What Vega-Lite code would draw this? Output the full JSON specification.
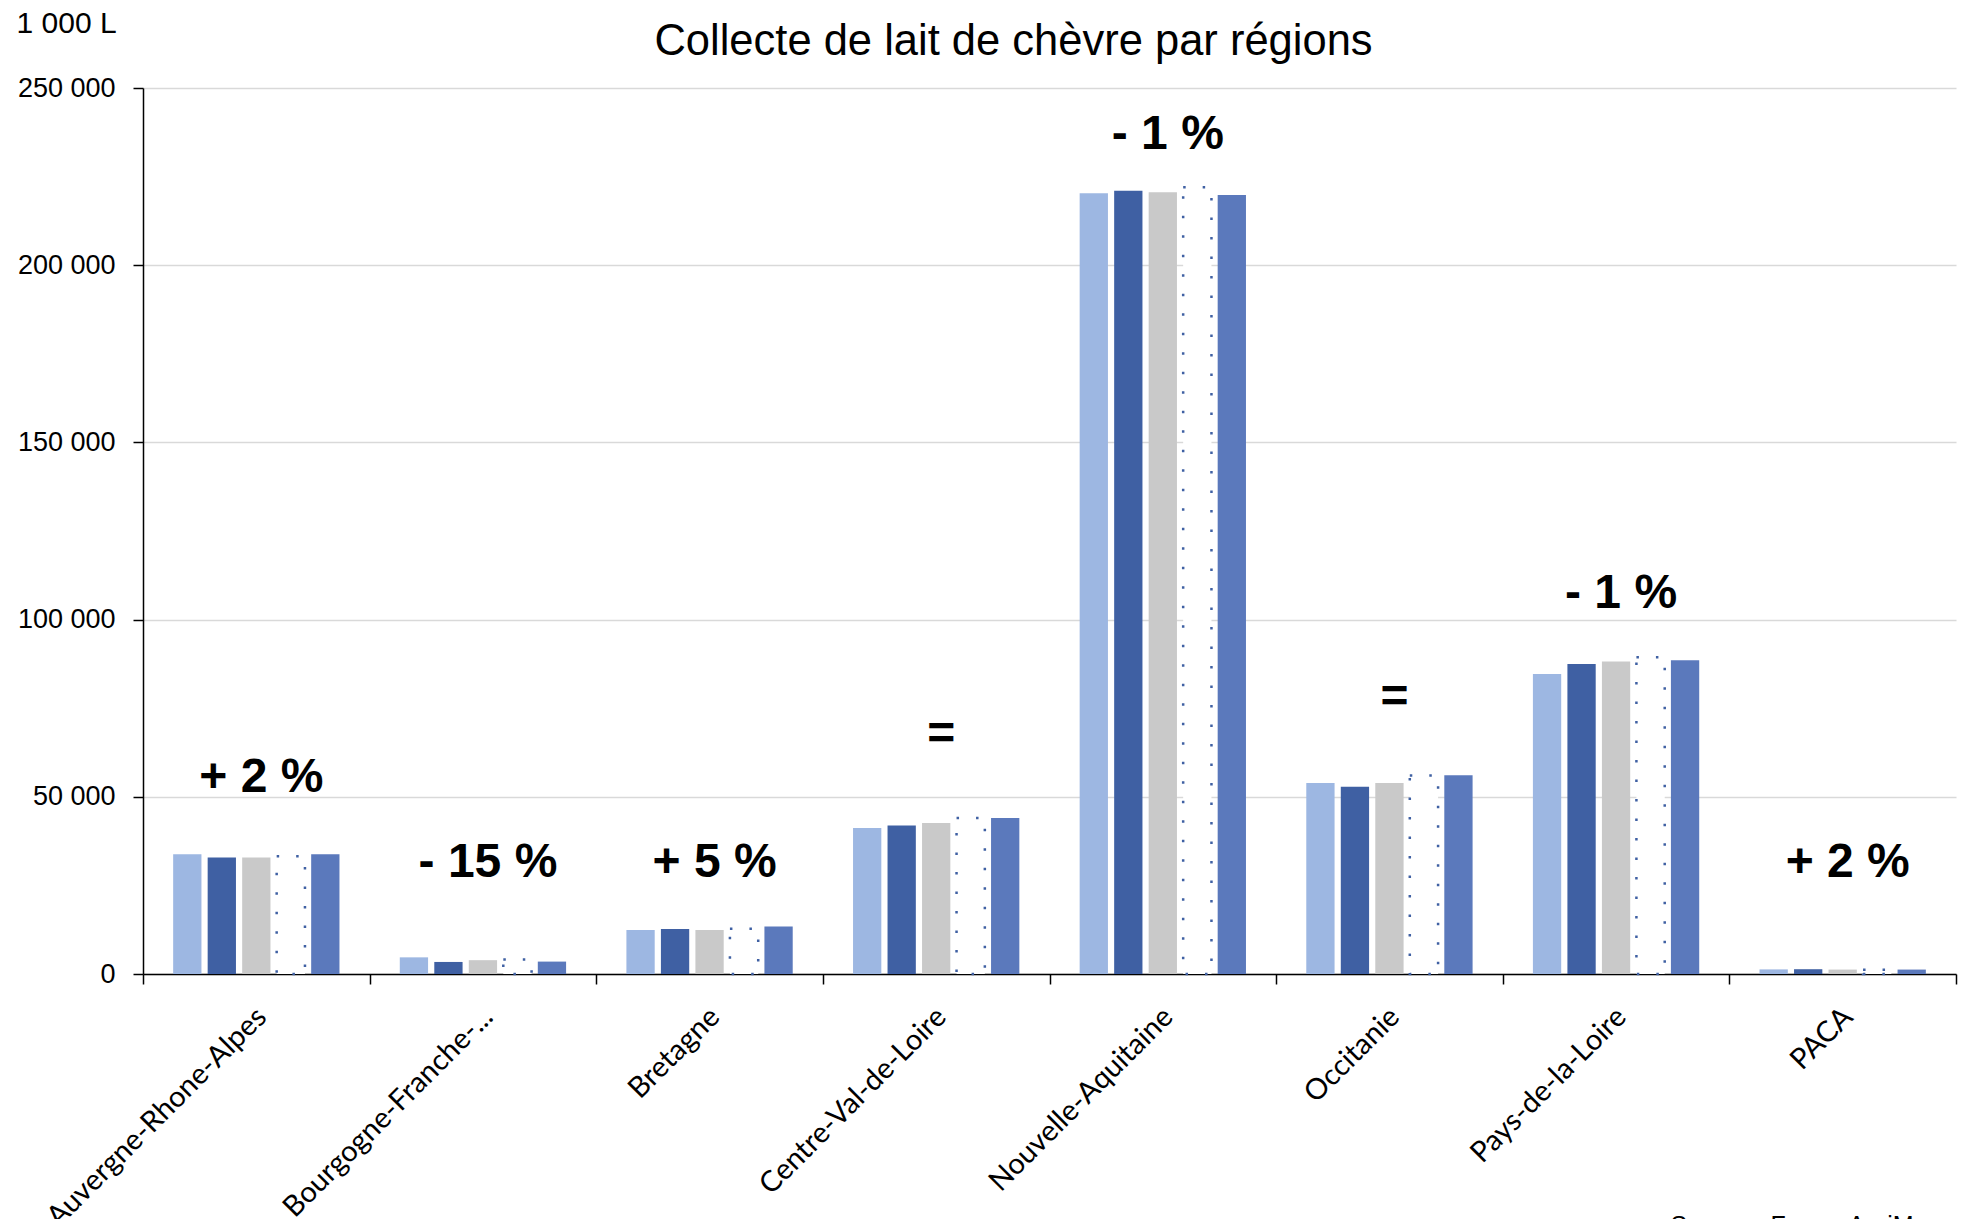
{
  "$schema": "https://vega.github.io/schema/vega-lite/v6.json",
  "width": 1813,
  "height": 886,
  "autosize": {"type": "none"},
  "padding": {"left": 143, "top": 88, "right": 5, "bottom": 245},
  "background": "white",
  "title": {
    "text": "Collecte de lait de chèvre par régions",
    "font": "Liberation Sans",
    "fontSize": 43.5,
    "fontWeight": "normal",
    "color": "#000000",
    "anchor": "middle",
    "baseline": "alphabetic",
    "dx": -36,
    "offset": -90
  },
  "config": {
    "view": {"stroke": null},
    "axis": {"labelColor": "#000000", "titleColor": "#000000"}
  },
  "datasets": {
    "bars": [
      {"region": "Auvergne-Rhone-Alpes", "serie": "2018", "value": 33800},
      {"region": "Auvergne-Rhone-Alpes", "serie": "2019", "value": 32900},
      {"region": "Auvergne-Rhone-Alpes", "serie": "2020", "value": 32900},
      {"region": "Auvergne-Rhone-Alpes", "serie": "2021", "value": 33200},
      {"region": "Auvergne-Rhone-Alpes", "serie": "2022", "value": 33800},
      {"region": "Bourgogne-Franche-Comté", "serie": "2018", "value": 4700},
      {"region": "Bourgogne-Franche-Comté", "serie": "2019", "value": 3400},
      {"region": "Bourgogne-Franche-Comté", "serie": "2020", "value": 3900},
      {"region": "Bourgogne-Franche-Comté", "serie": "2021", "value": 4100},
      {"region": "Bourgogne-Franche-Comté", "serie": "2022", "value": 3500},
      {"region": "Bretagne", "serie": "2018", "value": 12400},
      {"region": "Bretagne", "serie": "2019", "value": 12700},
      {"region": "Bretagne", "serie": "2020", "value": 12400},
      {"region": "Bretagne", "serie": "2021", "value": 12750},
      {"region": "Bretagne", "serie": "2022", "value": 13400},
      {"region": "Centre-Val-de-Loire", "serie": "2018", "value": 41200},
      {"region": "Centre-Val-de-Loire", "serie": "2019", "value": 41900},
      {"region": "Centre-Val-de-Loire", "serie": "2020", "value": 42600},
      {"region": "Centre-Val-de-Loire", "serie": "2021", "value": 44000},
      {"region": "Centre-Val-de-Loire", "serie": "2022", "value": 44000},
      {"region": "Nouvelle-Aquitaine", "serie": "2018", "value": 220300},
      {"region": "Nouvelle-Aquitaine", "serie": "2019", "value": 221000},
      {"region": "Nouvelle-Aquitaine", "serie": "2020", "value": 220600},
      {"region": "Nouvelle-Aquitaine", "serie": "2021", "value": 222000},
      {"region": "Nouvelle-Aquitaine", "serie": "2022", "value": 219800},
      {"region": "Occitanie", "serie": "2018", "value": 53900},
      {"region": "Occitanie", "serie": "2019", "value": 52850},
      {"region": "Occitanie", "serie": "2020", "value": 53900},
      {"region": "Occitanie", "serie": "2021", "value": 56000},
      {"region": "Occitanie", "serie": "2022", "value": 56050},
      {"region": "Pays-de-la-Loire", "serie": "2018", "value": 84650},
      {"region": "Pays-de-la-Loire", "serie": "2019", "value": 87470},
      {"region": "Pays-de-la-Loire", "serie": "2020", "value": 88150},
      {"region": "Pays-de-la-Loire", "serie": "2021", "value": 89400},
      {"region": "Pays-de-la-Loire", "serie": "2022", "value": 88500},
      {"region": "PACA", "serie": "2018", "value": 1300},
      {"region": "PACA", "serie": "2019", "value": 1350},
      {"region": "PACA", "serie": "2020", "value": 1250},
      {"region": "PACA", "serie": "2021", "value": 1200},
      {"region": "PACA", "serie": "2022", "value": 1250}
    ],
    "labels": [
      {"region": "Auvergne-Rhone-Alpes", "value": 55300, "txt": "+ 2 %"},
      {"region": "Bourgogne-Franche-Comté", "value": 31300, "txt": "- 15 %"},
      {"region": "Bretagne", "value": 31300, "txt": "+ 5 %"},
      {"region": "Centre-Val-de-Loire", "value": 67400, "txt": "="},
      {"region": "Nouvelle-Aquitaine", "value": 236700, "txt": "- 1 %"},
      {"region": "Occitanie", "value": 77900, "txt": "="},
      {"region": "Pays-de-la-Loire", "value": 107200, "txt": "- 1 %"},
      {"region": "PACA", "value": 31300, "txt": "+ 2 %"}
    ]
  },
  "layer": [
    {
      "data": {"name": "bars"},
      "transform": [{"filter": {"field": "serie", "oneOf": ["2018", "2019", "2020", "2022"]}}],
      "mark": {"type": "bar"},
      "encoding": {
        "x": {
          "field": "region",
          "type": "nominal",
          "sort": ["Auvergne-Rhone-Alpes", "Bourgogne-Franche-Comté", "Bretagne", "Centre-Val-de-Loire", "Nouvelle-Aquitaine", "Occitanie", "Pays-de-la-Loire", "PACA"],
          "scale": {"paddingInner": 0, "paddingOuter": 0},
          "axis": {
            "title": "Source : FranceAgriMer",
            "titleFont": "Liberation Sans",
            "titleFontSize": 25,
            "titleFontWeight": "normal",
            "titleAlign": "left",
            "titleAnchor": "start",
            "titleBaseline": "top",
            "titleX": 1527,
            "titleY": 239,
            "labelAngle": -45,
            "labelAlign": "right",
            "labelBaseline": "top",
            "labelFont": "Lato",
            "labelFontSize": 29,
            "labelPadding": 18,
            "labelOffset": -5,
            "labelLimit": 400,
            "labelExpr": "datum.value == 'Bourgogne-Franche-Comté' ? 'Bourgogne-Franche-...' : datum.value",
            "domainColor": "#000000",
            "domainWidth": 1.5,
            "tickColor": "#000000",
            "tickWidth": 1.5,
            "tickSize": 10,
            "tickBand": "extent",
            "grid": false
          }
        },
        "xOffset": {
          "field": "serie",
          "type": "nominal",
          "scale": {"domain": ["2018", "2019", "2020", "2021", "2022"], "paddingInner": 0.18, "paddingOuter": 0.874}
        },
        "y": {
          "field": "value",
          "type": "quantitative",
          "scale": {"domain": [0, 250000], "nice": false},
          "axis": {
            "title": "1 000 L",
            "titleFont": "Liberation Sans",
            "titleFontSize": 30,
            "titleFontWeight": "normal",
            "titleAngle": 0,
            "titleAlign": "left",
            "titleBaseline": "middle",
            "titleX": -127,
            "titleY": -65,
            "values": [0, 50000, 100000, 150000, 200000, 250000],
            "labelExpr": "replace(format(datum.value, ','), ',', ' ')",
            "labelFont": "Liberation Sans",
            "labelFontSize": 27,
            "labelPadding": 18,
            "domainColor": "#000000",
            "domainWidth": 1.5,
            "tickColor": "#000000",
            "tickWidth": 1.5,
            "tickSize": 10,
            "grid": true,
            "gridColor": "#d9d9d9",
            "gridWidth": 1.5
          }
        },
        "color": {
          "field": "serie",
          "type": "nominal",
          "scale": {"domain": ["2018", "2019", "2020", "2021", "2022"], "range": ["#9db7e2", "#3f60a3", "#c9c9c9", "#ffffff", "#5b79bc"]},
          "legend": null
        }
      }
    },
    {
      "data": {"name": "bars"},
      "transform": [{"filter": {"field": "serie", "equal": "2021"}}],
      "mark": {"type": "bar", "fill": "#ffffff", "stroke": "#3f60a3", "strokeWidth": 2.5, "strokeDash": [2.5, 17]},
      "encoding": {
        "x": {"field": "region", "type": "nominal", "sort": ["Auvergne-Rhone-Alpes", "Bourgogne-Franche-Comté", "Bretagne", "Centre-Val-de-Loire", "Nouvelle-Aquitaine", "Occitanie", "Pays-de-la-Loire", "PACA"]},
        "xOffset": {"field": "serie", "type": "nominal"},
        "y": {"field": "value", "type": "quantitative"}
      }
    },
    {
      "data": {"name": "labels"},
      "mark": {"type": "text", "font": "Liberation Sans", "fontSize": 48, "fontWeight": "bold", "color": "#000000", "baseline": "middle", "align": "center", "dx": 5},
      "encoding": {
        "x": {"field": "region", "type": "nominal", "sort": ["Auvergne-Rhone-Alpes", "Bourgogne-Franche-Comté", "Bretagne", "Centre-Val-de-Loire", "Nouvelle-Aquitaine", "Occitanie", "Pays-de-la-Loire", "PACA"]},
        "y": {"field": "value", "type": "quantitative"},
        "text": {"field": "txt", "type": "nominal"}
      }
    }
  ]
}
